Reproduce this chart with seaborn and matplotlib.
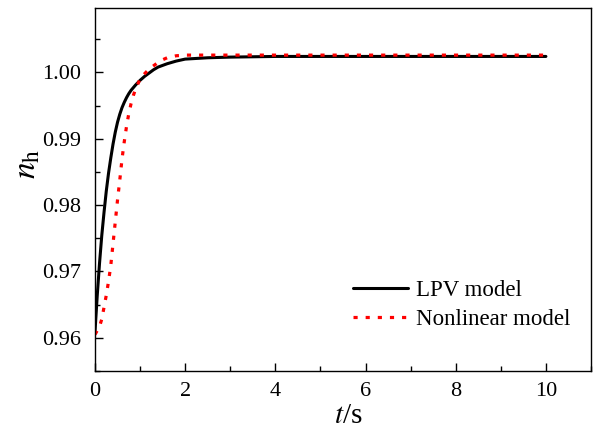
import matplotlib
matplotlib.use("Agg")
import matplotlib.pyplot as plt
from matplotlib.ticker import MultipleLocator, FormatStrFormatter
import pandas as pd
import seaborn as sns

# datos
t_lpv = [0, 0.05, 0.1, 0.15, 0.2, 0.25, 0.3, 0.35, 0.4, 0.45, 0.5, 0.55, 0.6,
         0.65, 0.7, 0.75, 0.8, 0.85, 0.9, 1.0, 1.1, 1.2, 1.3, 1.4, 1.6, 1.8,
         2.0, 2.5, 3.0, 4.0, 6.0, 8.0, 10.0]
n_lpv = [0.9609, 0.9664, 0.9712, 0.9754, 0.9789, 0.9821, 0.9848, 0.9871, 0.9892,
         0.9910, 0.9925, 0.9937, 0.9947, 0.9955, 0.9962, 0.9968, 0.9973, 0.9977,
         0.9981, 0.9988, 0.9994, 0.9999, 1.0004, 1.0008, 1.0013, 1.0017, 1.0020,
         1.0022, 1.0023, 1.0024, 1.0024, 1.0024, 1.0024]

t_nl = [0, 0.1, 0.15, 0.2, 0.25, 0.3, 0.35, 0.4, 0.45, 0.5, 0.55, 0.6, 0.65,
        0.7, 0.75, 0.8, 0.85, 0.9, 1.0, 1.1, 1.2, 1.3, 1.4, 1.5, 1.6, 1.8,
        2.0, 3.0, 4.0, 6.0, 8.0, 10.0]
n_nl = [0.9605, 0.9617, 0.9628, 0.9646, 0.9664, 0.9685, 0.9709, 0.9742, 0.9775,
        0.9808, 0.9838, 0.9870, 0.9896, 0.9919, 0.9938, 0.9953, 0.9965, 0.9975,
        0.9990, 0.9998, 1.0005, 1.0010, 1.0015, 1.0019, 1.0022, 1.0025, 1.0026,
        1.0026, 1.0026, 1.0026, 1.0026, 1.0026]

sns.set_style("ticks")
plt.rcParams["font.family"] = ["Liberation Serif", "DejaVu Serif"]
plt.rcParams["mathtext.fontset"] = "stix"
plt.rcParams["text.color"] = "black"
plt.rcParams["axes.labelcolor"] = "black"

fig = plt.figure(figsize=(5.96, 4.29), dpi=100)
ax = fig.add_axes([95 / 596, 1 - 371 / 429, 496 / 596, 363 / 429])

df_lpv = pd.DataFrame({"t": t_lpv, "n": n_lpv})
df_nl = pd.DataFrame({"t": t_nl, "n": n_nl})

sns.lineplot(data=df_lpv, x="t", y="n", ax=ax, color="black", lw=2.2,
             label="LPV model")
sns.lineplot(data=df_nl, x="t", y="n", ax=ax, color="red", lw=2.3,
             linestyle=(0, (1.3, 2.5)), label="Nonlinear model")

ax.set_xlim(0, 11)
ax.set_ylim(0.955, 1.0097)
ax.xaxis.set_major_locator(MultipleLocator(2))
ax.xaxis.set_minor_locator(MultipleLocator(1))
ax.yaxis.set_major_locator(MultipleLocator(0.01))
ax.yaxis.set_minor_locator(MultipleLocator(0.005))
ax.yaxis.set_major_formatter(FormatStrFormatter("%.2f"))

ax.tick_params(which="both", direction="in", top=False, right=False,
               width=1.0, colors="black", labelsize=16)
ax.tick_params(which="major", length=6)
ax.tick_params(which="minor", length=3.5)
ax.tick_params(axis="y", pad=10)
ax.tick_params(axis="x", pad=8)
for s in ax.spines.values():
    s.set_visible(True)
    s.set_linewidth(1.0)
    s.set_color("black")

ax.set_xlabel(r"$t$/s", fontsize=21)
ax.set_ylabel(r"$n_{\mathrm{h}}$", fontsize=24)
ax.xaxis.set_label_coords(0.51, -0.088)
ax.yaxis.set_label_coords(-0.105, 0.57)

ax.legend(loc="upper left", bbox_to_anchor=(258 / 496, 0.25), frameon=False,
          fontsize=16.5, handlelength=2.4, handletextpad=0.35, borderpad=0,
          borderaxespad=0, labelspacing=0.32)

fig.savefig("out.png", dpi=100)
